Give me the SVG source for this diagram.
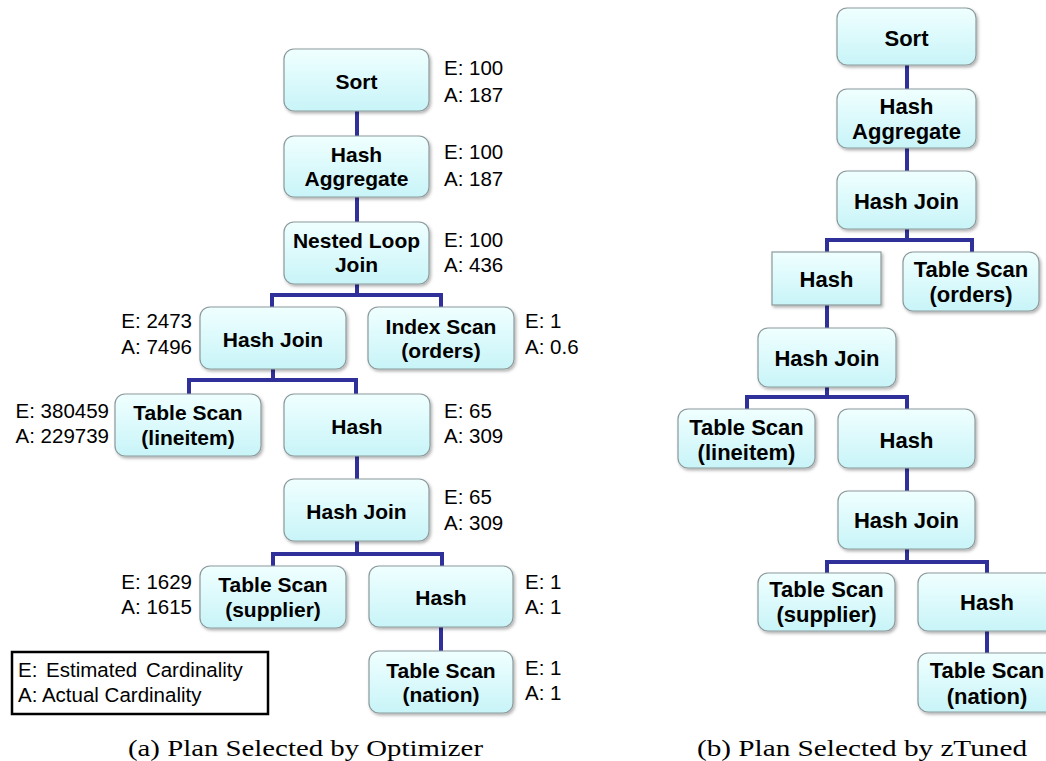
<svg xmlns="http://www.w3.org/2000/svg" width="1046" height="761" viewBox="0 0 1046 761">
  <defs>
    <linearGradient id="boxFill" x1="0" y1="0" x2="0" y2="1">
      <stop offset="0" stop-color="#f0ffff"/>
      <stop offset="1" stop-color="#c8f4f8"/>
    </linearGradient>
    <filter id="shadow" x="-10%" y="-10%" width="125%" height="130%">
      <feDropShadow dx="1.5" dy="2" stdDeviation="1.4" flood-color="#000" flood-opacity="0.3"/>
    </filter>
    <style>
      .box { fill: url(#boxFill); stroke: #8c9a9c; stroke-width: 1.2; filter: url(#shadow); }
      .op { font-family: "Liberation Sans", Arial, sans-serif; font-weight: bold; fill: #000; text-anchor: middle; }
      .opA { font-size: 21px; }
      .opB { font-size: 22px; }
      .card { font-family: "Liberation Sans", Arial, sans-serif; font-size: 20.5px; fill: #000; }
      .right { text-anchor: end; }
      .wire { fill: none; stroke: #30309a; stroke-width: 4; stroke-linejoin: miter; stroke-linecap: butt; }
      .legend { fill: #fff; stroke: #000; stroke-width: 2.5; }
      .caption { font-family: "Liberation Serif", "Times New Roman", serif; font-size: 24px; fill: #000; }
    </style>
  </defs>

  <!-- ===== connectors ===== -->
  <g id="connectors">
    <!-- plan (a) -->
    <path class="wire" d="M357,111 V136 M357,197 V222 M357,284 V295"/>
    <path class="wire" d="M272,307 V295 H441 V307"/>
    <path class="wire" d="M273,369 V380"/>
    <path class="wire" d="M189,394 V380 H356 V394"/>
    <path class="wire" d="M357,456 V479 M357,541 V554"/>
    <path class="wire" d="M273,566 V554 H442 V566"/>
    <path class="wire" d="M441,627 V651"/>
    <!-- plan (b) -->
    <path class="wire" d="M907,65 V89 M907,148 V171 M907,229 V240"/>
    <path class="wire" d="M827,252 V240 H972 V252"/>
    <path class="wire" d="M827,305 V328 M827,387 V397"/>
    <path class="wire" d="M747,409 V397 H907 V409"/>
    <path class="wire" d="M907,468 V491 M907,549 V562"/>
    <path class="wire" d="M827,573 V562 H987 V573"/>
    <path class="wire" d="M987,631 V653"/>
  </g>

  <!-- ===== plan (a): operators ===== -->
  <g id="a-sort">
    <rect class="box" x="284" y="49" width="145" height="62" rx="10"/>
    <text class="op opA" x="356.5" y="89">Sort</text>
    <text class="card" x="444" y="75">E: 100</text>
    <text class="card" x="444" y="102">A: 187</text>
  </g>
  <g id="a-hash-aggregate">
    <rect class="box" x="284" y="136" width="145" height="61" rx="10"/>
    <text class="op opA" x="356.5" y="162">Hash</text>
    <text class="op opA" x="356.5" y="186">Aggregate</text>
    <text class="card" x="444" y="159">E: 100</text>
    <text class="card" x="444" y="186">A: 187</text>
  </g>
  <g id="a-nested-loop-join">
    <rect class="box" x="284" y="222" width="145" height="62" rx="10"/>
    <text class="op opA" x="356.5" y="248">Nested Loop</text>
    <text class="op opA" x="356.5" y="272">Join</text>
    <text class="card" x="444" y="247">E: 100</text>
    <text class="card" x="444" y="272">A: 436</text>
  </g>
  <g id="a-hash-join-1">
    <rect class="box" x="200" y="307" width="146" height="62" rx="10"/>
    <text class="op opA" x="273" y="346.5">Hash Join</text>
    <text class="card right" x="192" y="328">E: 2473</text>
    <text class="card right" x="192" y="354">A: 7496</text>
  </g>
  <g id="a-index-scan-orders">
    <rect class="box" x="368" y="307" width="146" height="62" rx="10"/>
    <text class="op opA" x="441" y="334">Index Scan</text>
    <text class="op opA" x="441" y="358">(orders)</text>
    <text class="card" x="525" y="328">E: 1</text>
    <text class="card" x="525" y="354">A: 0.6</text>
  </g>
  <g id="a-table-scan-lineitem">
    <rect class="box" x="115" y="394" width="146" height="62" rx="10"/>
    <text class="op opA" x="188" y="420">Table Scan</text>
    <text class="op opA" x="188" y="445">(lineitem)</text>
    <text class="card right" x="109" y="418">E: 380459</text>
    <text class="card right" x="109" y="443">A: 229739</text>
  </g>
  <g id="a-hash-1">
    <rect class="box" x="284" y="394" width="146" height="62" rx="10"/>
    <text class="op opA" x="357" y="433.5">Hash</text>
    <text class="card" x="444" y="418">E: 65</text>
    <text class="card" x="444" y="443">A: 309</text>
  </g>
  <g id="a-hash-join-2">
    <rect class="box" x="284" y="479" width="145" height="62" rx="10"/>
    <text class="op opA" x="356.5" y="518.5">Hash Join</text>
    <text class="card" x="444" y="504">E: 65</text>
    <text class="card" x="444" y="530">A: 309</text>
  </g>
  <g id="a-table-scan-supplier">
    <rect class="box" x="200" y="566" width="146" height="62" rx="10"/>
    <text class="op opA" x="273" y="592">Table Scan</text>
    <text class="op opA" x="273" y="617">(supplier)</text>
    <text class="card right" x="192" y="589">E: 1629</text>
    <text class="card right" x="192" y="614">A: 1615</text>
  </g>
  <g id="a-hash-2">
    <rect class="box" x="369" y="566" width="144" height="61" rx="10"/>
    <text class="op opA" x="441" y="605">Hash</text>
    <text class="card" x="525" y="589">E: 1</text>
    <text class="card" x="525" y="614">A: 1</text>
  </g>
  <g id="a-table-scan-nation">
    <rect class="box" x="369" y="651" width="144" height="62" rx="10"/>
    <text class="op opA" x="441" y="678">Table Scan</text>
    <text class="op opA" x="441" y="702">(nation)</text>
    <text class="card" x="525" y="675">E: 1</text>
    <text class="card" x="525" y="700">A: 1</text>
  </g>

  <!-- legend -->
  <g id="legend">
    <rect class="legend" x="12" y="652" width="256" height="62"/>
    <text class="card" x="18" y="677" word-spacing="3">E: Estimated Cardinality</text>
    <text class="card" x="18" y="702">A: Actual Cardinality</text>
  </g>

  <!-- ===== plan (b): operators ===== -->
  <g id="b-sort">
    <rect class="box" x="837" y="8" width="139" height="57" rx="10"/>
    <text class="op opB" x="906.5" y="46">Sort</text>
  </g>
  <g id="b-hash-aggregate">
    <rect class="box" x="837" y="89" width="139" height="59" rx="10"/>
    <text class="op opB" x="906.5" y="114">Hash</text>
    <text class="op opB" x="906.5" y="139">Aggregate</text>
  </g>
  <g id="b-hash-join-1">
    <rect class="box" x="837" y="171" width="139" height="58" rx="10"/>
    <text class="op opB" x="906.5" y="209">Hash Join</text>
  </g>
  <g id="b-hash-1">
    <rect class="box" x="772" y="252" width="109" height="53"/>
    <text class="op opB" x="826.5" y="287">Hash</text>
  </g>
  <g id="b-table-scan-orders">
    <rect class="box" x="903" y="252" width="136" height="59" rx="10"/>
    <text class="op opB" x="971" y="277">Table Scan</text>
    <text class="op opB" x="971" y="302">(orders)</text>
  </g>
  <g id="b-hash-join-2">
    <rect class="box" x="758" y="328" width="138" height="59" rx="10"/>
    <text class="op opB" x="827" y="366">Hash Join</text>
  </g>
  <g id="b-table-scan-lineitem">
    <rect class="box" x="678" y="409" width="137" height="59" rx="10"/>
    <text class="op opB" x="746.5" y="435">Table Scan</text>
    <text class="op opB" x="746.5" y="460">(lineitem)</text>
  </g>
  <g id="b-hash-2">
    <rect class="box" x="838" y="409" width="137" height="59" rx="10"/>
    <text class="op opB" x="906.5" y="447.5">Hash</text>
  </g>
  <g id="b-hash-join-3">
    <rect class="box" x="838" y="491" width="137" height="58" rx="10"/>
    <text class="op opB" x="906.5" y="528">Hash Join</text>
  </g>
  <g id="b-table-scan-supplier">
    <rect class="box" x="758" y="573" width="137" height="58" rx="10"/>
    <text class="op opB" x="826.5" y="597">Table Scan</text>
    <text class="op opB" x="826.5" y="622">(supplier)</text>
  </g>
  <g id="b-hash-3">
    <rect class="box" x="918" y="573" width="138" height="58" rx="10"/>
    <text class="op opB" x="987" y="610">Hash</text>
  </g>
  <g id="b-table-scan-nation">
    <rect class="box" x="918" y="653" width="138" height="59" rx="10"/>
    <text class="op opB" x="987" y="678">Table Scan</text>
    <text class="op opB" x="987" y="704">(nation)</text>
  </g>

  <!-- sub-figure captions -->
  <text class="caption" x="128" y="756" textLength="355" lengthAdjust="spacingAndGlyphs">(a) Plan Selected by Optimizer</text>
  <text class="caption" x="697" y="756" textLength="330" lengthAdjust="spacingAndGlyphs">(b) Plan Selected by zTuned</text>
</svg>
